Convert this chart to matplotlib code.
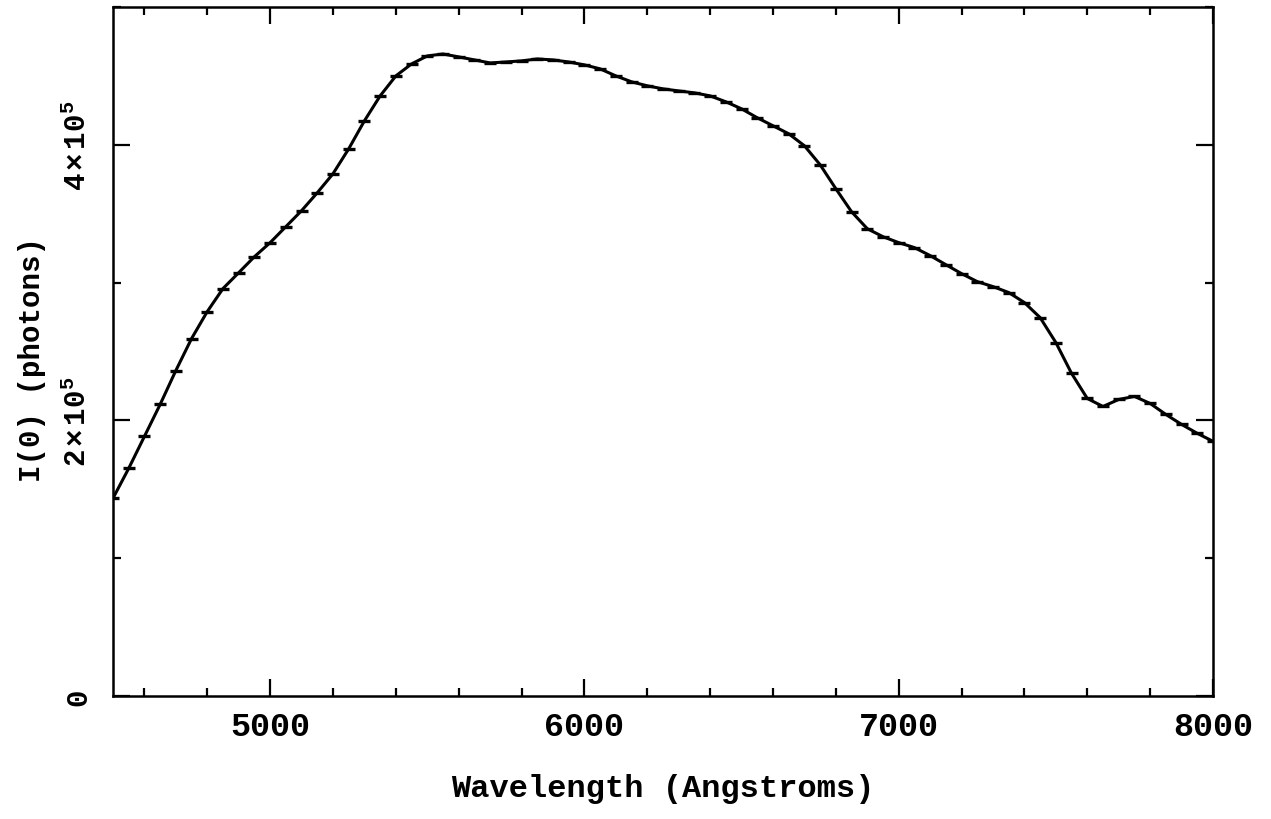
import numpy as np
import matplotlib
matplotlib.use("Agg")
import matplotlib.pyplot as plt
from matplotlib.ticker import MultipleLocator, FixedLocator, FixedFormatter

# wavelength grid (Angstroms) and measured I(0) (photons)
wavelength = np.arange(4500, 8001, 50)
intensity = [
    143500, 165200, 188400, 211600, 236200, 259400, 279000, 295700, 307200, 318800,
    329000, 340600, 352200, 365200, 379000, 397100, 417400, 435500, 450000, 458700,
    464500, 465900, 463800, 461600, 459400, 460100, 460900, 462300, 461600, 460100,
    458000, 455100, 450000, 445700, 442800, 440600, 439100, 437700, 435500, 431200,
    426100, 419600, 413800, 408000, 399300, 385500, 368100, 351400, 339100, 333300,
    329000, 325400, 319600, 313000, 306500, 300700, 297100, 292800, 285500, 274600,
    256500, 234100, 215900, 210100, 215200, 217400, 212300, 204300, 197100, 190600,
    184800,
]
y_ticks = [0, 200000, 400000]
y_tick_labels = ["0", r"$2\times10^5$", r"$4\times10^5$"]
x_ticks = [5000, 6000, 7000, 8000]

plt.rcParams["font.family"] = "Liberation Mono"
plt.rcParams["font.weight"] = "bold"
plt.rcParams["axes.labelweight"] = "bold"
plt.rcParams["mathtext.fontset"] = "custom"
plt.rcParams["mathtext.rm"] = "Liberation Mono:bold"
plt.rcParams["mathtext.it"] = "Liberation Mono:bold"

fig = plt.figure(figsize=(12.71, 8.2), dpi=100)
ax = fig.add_axes([113 / 1271, 1 - 697 / 820, 1100 / 1271, 689 / 820])

ax.plot(wavelength, intensity, color="black", linewidth=2.2)
ax.plot(wavelength, intensity, linestyle="none", marker="_", markersize=9,
        markeredgewidth=2.4, color="black")

ax.set_xlim(4500, 8000)
ax.set_ylim(0, 500000)

ax.xaxis.set_major_locator(FixedLocator(x_ticks))
ax.xaxis.set_minor_locator(MultipleLocator(200))
ax.yaxis.set_major_locator(FixedLocator(y_ticks))
ax.yaxis.set_major_formatter(FixedFormatter(y_tick_labels))
ax.yaxis.set_minor_locator(MultipleLocator(100000))

ax.tick_params(which="both", direction="in", top=True, right=True, width=1.6, color="black")
ax.tick_params(which="major", length=12)
ax.tick_params(which="minor", length=6)
ax.tick_params(axis="x", labelsize=24, pad=11)
ax.tick_params(axis="y", labelsize=21, pad=15)
for lbl in ax.get_yticklabels():
    lbl.set_rotation(90)
    lbl.set_verticalalignment("center")

for s in ax.spines.values():
    s.set_linewidth(1.8)

ax.set_xlabel("Wavelength (Angstroms)", fontsize=23, labelpad=22)
ax.set_ylabel("I(0) (photons)", fontsize=21)
ax.yaxis.set_label_coords(-0.061, 0.49)

fig.savefig("out.png", dpi=100)
